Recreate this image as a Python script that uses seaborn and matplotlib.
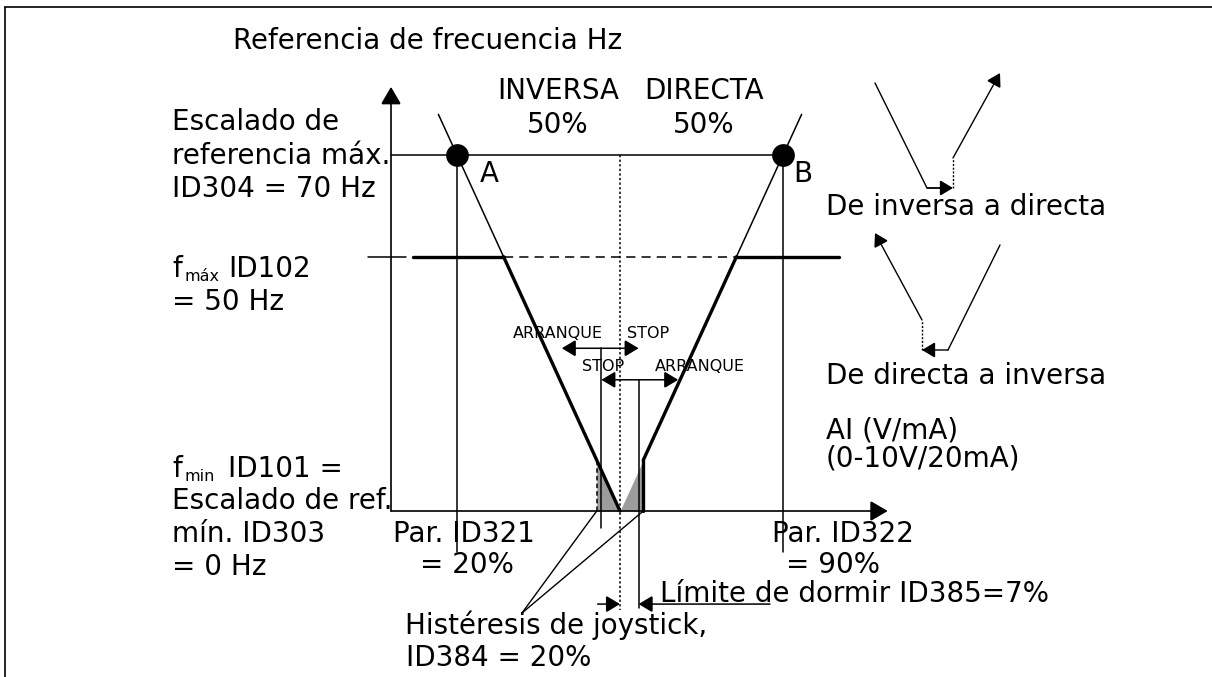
import matplotlib
matplotlib.use("Agg")
import matplotlib.pyplot as plt
from matplotlib.lines import Line2D
import seaborn as sns

# ---- parameters of the joystick reference curve (AI in %, reference in Hz) ----
ai_min_pct = 20          # Par. ID321
ai_max_pct = 90          # Par. ID322
ai_center_pct = 55       # 50 % reverse / 50 % forward split
f_ref_max = 70           # ID304
f_max = 50               # ID102
f_min = 0                # ID101 / ID303

# reverse branch (left leg) and forward branch (right leg)
rev_x = [16, 20, 30, 55]
rev_y = [78, 70, 50, 0]
fwd_x = [60, 80, 90, 94]
fwd_y = [10, 50, 70, 78]

# joystick hysteresis band and sleep limit
hyst_lo_pct = 50
hyst_hi_pct = 60
hyst_lo_f = 10
hyst_hi_f = 10
stop_pct = 51
start_pct = 59
arrow_reach_pct = 12.5
sleep_f = -18.3

# ---- figure ----
W, H = 1212, 677
X0, X1 = -78.13, 182.12
Y0, Y1 = -32.64, 100.48
FS = 20

sns.set_style("white")
plt.rcParams["font.family"] = ["DejaVu Sans"]

fig = plt.figure(figsize=(W / 100, H / 100), dpi=100)
ax = fig.add_axes([0, 0, 1, 1])
ax.set_xlim(X0, X1)
ax.set_ylim(Y0, Y1)
ax.axis("off")


def px(x, y):
    """pixel position -> data position"""
    return X0 + x / W * (X1 - X0), Y1 - y / H * (Y1 - Y0)


def label(x, y, s, size=FS, ha="left"):
    fig.text(x / W, 1 - y / H, s, fontsize=size, ha=ha, va="baseline", color="black")


def arrow(p_from, p_to, style="-|>,head_length=0.5,head_width=0.3", ms=17, lw=1.1, ls="-"):
    ax.annotate("", xy=p_to, xytext=p_from,
                arrowprops=dict(arrowstyle=style, mutation_scale=ms, lw=lw, color="black",
                                shrinkA=0, shrinkB=0, linestyle=ls, joinstyle="miter"))


# outer frame
fig.add_artist(Line2D([5 / W, 5 / W], [0, 1 - 7 / H], color="black", lw=1.2))
fig.add_artist(Line2D([5 / W, 1], [1 - 7 / H, 1 - 7 / H], color="black", lw=1.2))

# axes with arrow heads
axis_x = 5.83
axis_top = 83.4
axis_right = 112.5
big_head = "-|>,head_length=0.6,head_width=0.35"
arrow((axis_x, f_min), (axis_x, axis_top), style=big_head, ms=18, lw=1.2)
arrow((axis_x, f_min), (axis_right, f_min), style=big_head, ms=18, lw=1.2)

# grey hysteresis areas
ax.fill_between([hyst_lo_pct, ai_center_pct], [hyst_lo_f, f_min], f_min, color="#9c9c9c", lw=0)
ax.fill_between([ai_center_pct, hyst_hi_pct], f_min, [f_min, hyst_hi_f], color="#9c9c9c", lw=0)
ax.plot([hyst_lo_pct, hyst_lo_pct], [f_min, hyst_lo_f], color="black", lw=1.1, ls=(0, (3, 2)))
ax.plot([hyst_hi_pct, hyst_hi_pct], [f_min, hyst_hi_f], color="black", lw=2.4)

# 70 Hz scaling line and A / B points
ax.plot([axis_x, ai_max_pct], [f_ref_max, f_ref_max], color="black", lw=1.1)
ax.plot([ai_min_pct, ai_min_pct], [f_ref_max, -8], color="black", lw=1.1)
ax.plot([ai_max_pct, ai_max_pct], [f_ref_max, -8], color="black", lw=1.1)

# reference legs: thin above f_max, thick below
sns.lineplot(x=rev_x[:3], y=rev_y[:3], sort=False, estimator=None, color="black", lw=1.1, ax=ax)
sns.lineplot(x=rev_x[2:], y=rev_y[2:], sort=False, estimator=None, color="black", lw=2.4, ax=ax)
sns.lineplot(x=fwd_x[:2], y=fwd_y[:2], sort=False, estimator=None, color="black", lw=2.4, ax=ax)
sns.lineplot(x=fwd_x[1:], y=fwd_y[1:], sort=False, estimator=None, color="black", lw=1.1, ax=ax)

sns.scatterplot(x=[ai_min_pct, ai_max_pct], y=[f_ref_max, f_ref_max], s=230,
                color="black", edgecolor="black", ax=ax, zorder=5)

# f_max limit line
ax.plot([0.9, 9.0], [f_max, f_max], color="black", lw=1.1)
ax.plot([10.5, rev_x[2]], [f_max, f_max], color="black", lw=2.4)
ax.plot([rev_x[2], fwd_x[1]], [f_max, f_max], color="black", lw=1.1, ls=(0, (6, 4)))
ax.plot([fwd_x[1], 102], [f_max, f_max], color="black", lw=2.4)

# centre (sleep) line
ax.plot([ai_center_pct, ai_center_pct], [f_ref_max, -19.5], color="black", lw=1.1, ls=(0, (1.5, 1.5)))

# start / stop marks
ax.plot([stop_pct, stop_pct], [32, -3.3], color="black", lw=1.1)
ax.plot([start_pct, start_pct], [25.8, -19], color="black", lw=1.1)
dbl = "<|-|>,head_length=0.5,head_width=0.3"
arrow((ai_center_pct - arrow_reach_pct, 32), (start_pct, 32), style=dbl)
arrow((stop_pct, 25.8), (ai_center_pct + arrow_reach_pct, 25.8), style=dbl)

# sleep limit arrows
arrow((50.2, sleep_f), (ai_center_pct, sleep_f))
arrow((87.2, sleep_f), (start_pct, sleep_f))

# joystick hysteresis pointer lines
jx, jy = px(522, 613)
ax.plot([jx, hyst_lo_pct], [jy, f_min], color="black", lw=1.0)
ax.plot([jx, hyst_hi_pct], [jy, f_min], color="black", lw=1.0)


# small direction-change sketches
def sketch(points, head_from, head_to, dotted):
    xs, ys = zip(*[px(*p) for p in points])
    ax.plot(xs, ys, color="black", lw=1.0)
    dx, dy = zip(*[px(*p) for p in dotted])
    ax.plot(dx, dy, color="black", lw=1.0, ls=(0, (1.5, 1.2)))
    arrow(px(*head_from), px(*head_to), ms=16, lw=1.0)


sketch([(875, 83), (927, 188), (940, 188)], (953, 158), (1000, 73), [(953, 188), (953, 158)])
arrow(px(927, 188), px(953, 188), ms=16, lw=1.0)
sketch([(1000, 245), (948, 350)], (922, 320), (875, 233), [(922, 350), (922, 320)])
arrow(px(948, 350), px(922, 350), ms=16, lw=1.0)

# ---- texts ----
label(233, 49, "Referencia de frecuencia Hz")
label(558, 99, "INVERSA", ha="center")
label(558, 133, "50%", ha="center")
label(704, 99, "DIRECTA", ha="center")
label(704, 133, "50%", ha="center")

label(172, 130, "Escalado de")
label(172, 164, "referencia máx.")
label(172, 197, "ID304 = 70 Hz")
label(480, 182, "A")
label(793, 182, "B")

label(826, 215, "De inversa a directa")
label(826, 384, "De directa a inversa")
label(826, 438, "AI (V/mA)")
label(826, 467, "(0-10V/20mA)")

label(172, 277, "f")
label(184, 281, "máx", size=11.5)
label(228, 277, "ID102")
label(172, 310, "= 50 Hz")

label(172, 477, "f")
label(184, 481, "min", size=11.5)
label(228, 477, "ID101 =")
label(172, 509, "Escalado de ref.")
label(172, 542, "mín. ID303")
label(172, 575, "= 0 Hz")

label(393, 542, "Par. ID321")
label(420, 573, "= 20%")
label(772, 542, "Par. ID322")
label(786, 573, "= 90%")

label(603, 338, "ARRANQUE", size=11.5, ha="right")
label(627, 338, "STOP", size=11.5)
label(582, 371, "STOP", size=11.5)
label(655, 371, "ARRANQUE", size=11.5)

label(660, 602, "Límite de dormir ID385=7%")
label(405, 634, "Histéresis de joystick,")
label(406, 666, "ID384 = 20%")

fig.savefig("out.png", dpi=100, facecolor="white")
